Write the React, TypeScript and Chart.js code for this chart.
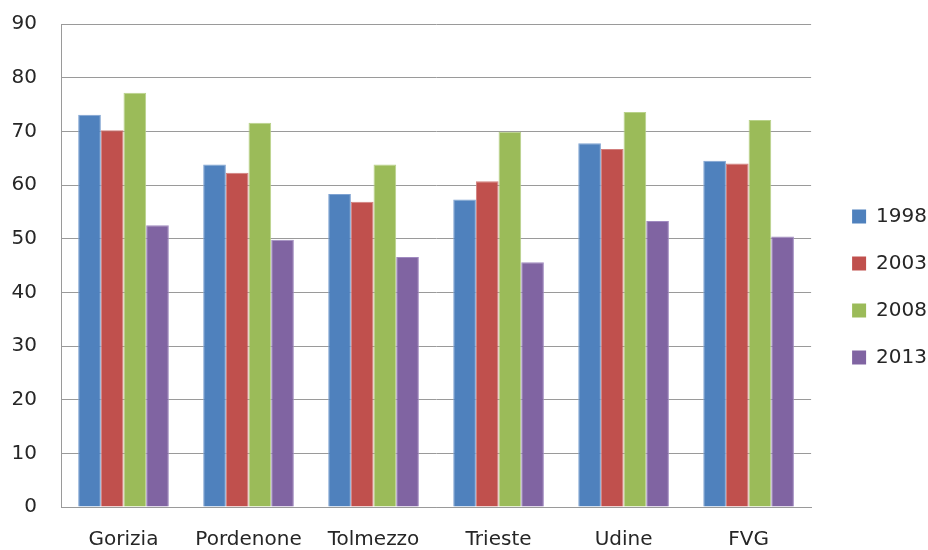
import React, { useEffect, useRef } from "react";
import { Chart, registerables } from "chart.js";

Chart.register(...registerables);

const categories = ["Gorizia", "Pordenone", "Tolmezzo", "Trieste", "Udine", "FVG"];
const seriesNames = ["1998", "2003", "2008", "2013"];
const values1998 = [73.1, 63.8, 58.3, 57.3, 67.8, 64.5];
const values2003 = [70.2, 62.3, 56.9, 60.7, 66.7, 64.0];
const values2008 = [77.2, 71.6, 63.8, 69.9, 73.6, 72.1];
const values2013 = [52.5, 49.8, 46.6, 45.6, 53.3, 50.4];
const seriesColors = ["#4F81BD", "#C0504D", "#9BBB59", "#8064A2"];
const seriesEdges = ["#7FA3D2", "#D27F7D", "#B9D28A", "#A08AC0"];
const yMin = 0;
const yMax = 90;
const yStep = 10;

const FONT = "'DejaVu Sans', sans-serif";
const TEXT = "#262626";
const GRID = "#9a9a9a";

export default function App() {
  const ref = useRef<HTMLCanvasElement | null>(null);

  useEffect(() => {
    if (!ref.current) return;
    const allValues = [values1998, values2003, values2008, values2013];
    const legendShift = {
      id: "legendShift",
      afterLayout(chart: any) {
        const lg = chart.legend;
        if (!lg) return;
        const dx = 14;
        lg.left += dx;
        lg.right += dx;
      },
    };
    const chart = new Chart(ref.current, {
      type: "bar",
      data: {
        labels: categories,
        datasets: seriesNames.map((name, i) => ({
          label: name,
          data: allValues[i],
          backgroundColor: seriesColors[i],
          borderColor: seriesEdges[i],
          borderWidth: { top: 1, left: 1, right: 1, bottom: 0 },
          barPercentage: 1,
          categoryPercentage: 0.725,
        })),
      },
      options: {
        responsive: false,
        animation: false,
        layout: { padding: { top: 24, right: 5, left: 0, bottom: 0 } },
        plugins: {
          tooltip: { enabled: false },
          legend: {
            position: "right",
            labels: {
              font: { family: FONT, size: 20 },
              color: TEXT,
              boxWidth: 14,
              boxHeight: 14,
              padding: 27,
              generateLabels(chart: any) {
                return chart.data.datasets.map((ds: any, i: number) => ({
                  text: ds.label,
                  fillStyle: seriesColors[i],
                  strokeStyle: seriesColors[i],
                  lineWidth: 0,
                  fontColor: TEXT,
                  hidden: false,
                  datasetIndex: i,
                }));
              },
            },
          },
        },
        scales: {
          x: {
            grid: { display: false, drawTicks: false },
            border: { display: true, color: GRID, width: 1 },
            ticks: {
              font: { family: FONT, size: 20 },
              color: TEXT,
              padding: 21,
              maxRotation: 0,
              autoSkip: false,
            },
            afterFit(scale: any) {
              scale.height = 43;
              scale.paddingLeft = 0;
              scale.paddingRight = 0;
            },
          },
          y: {
            min: yMin,
            max: yMax,
            grid: { color: GRID, drawTicks: false, lineWidth: 1 },
            border: { display: true, color: GRID, width: 1 },
            ticks: {
              stepSize: yStep,
              font: { family: FONT, size: 20 },
              color: TEXT,
              padding: 24,
            },
            afterFit(scale: any) {
              scale.width = 61;
              scale.paddingTop = 0;
              scale.paddingBottom = 0;
            },
          },
        },
      },
      plugins: [legendShift],
    });
    return () => chart.destroy();
  }, []);

  return (
    <div style={{ position: "absolute", left: 0, top: 0, width: 928, height: 550, background: "#fff" }}>
      <canvas ref={ref} width={928} height={550} style={{ display: "block" }} />
    </div>
  );
}
